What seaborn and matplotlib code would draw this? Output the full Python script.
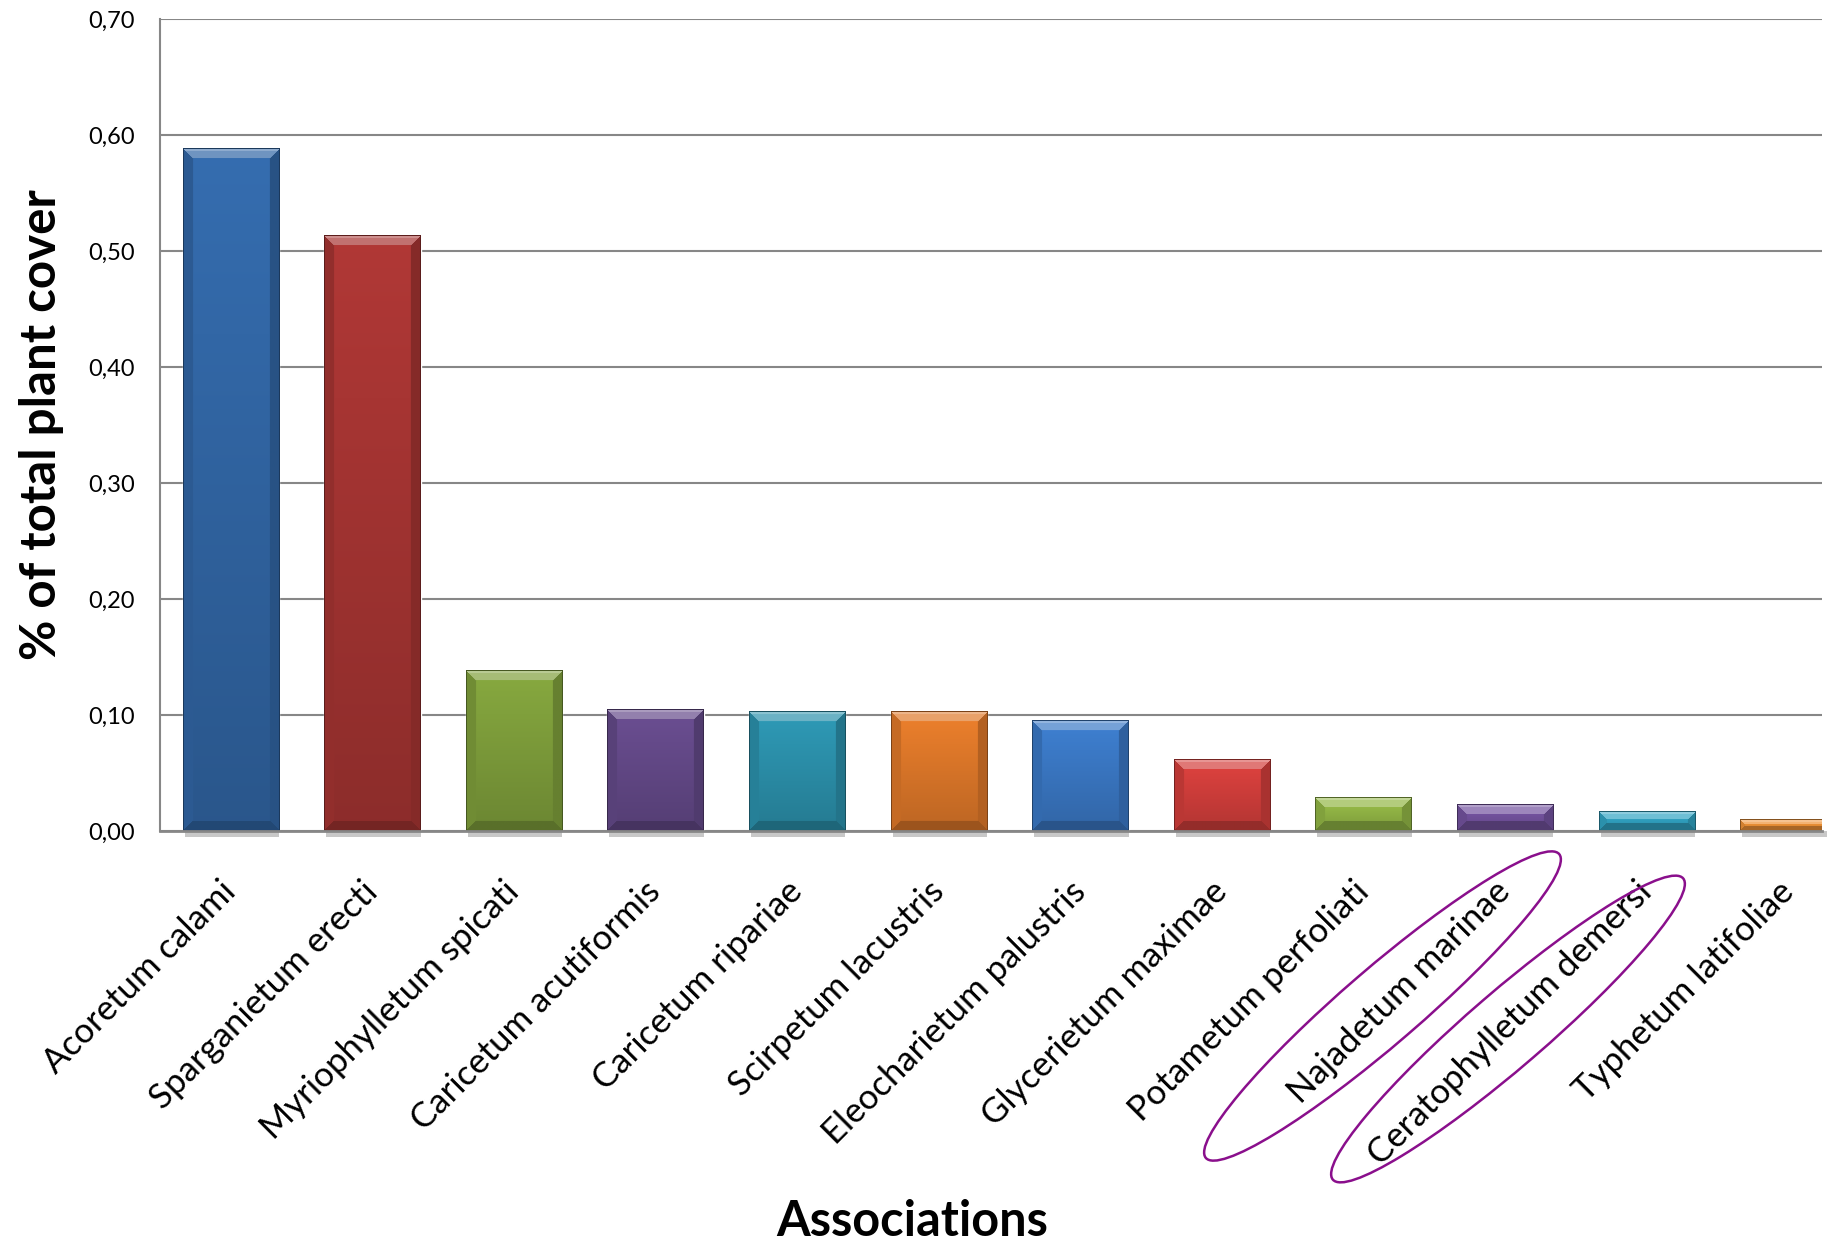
import numpy as np
import pandas as pd
import matplotlib
matplotlib.use("Agg")
import matplotlib.pyplot as plt
import seaborn as sns
from matplotlib.patches import Ellipse, Rectangle
from matplotlib.ticker import FuncFormatter
from matplotlib.colors import to_rgb

# Share of total plant cover per plant association
associations = [
    "Acoretum calami", "Sparganietum erecti", "Myriophylletum spicati",
    "Caricetum acutiformis", "Caricetum ripariae", "Scirpetum lacustris",
    "Eleocharietum palustris", "Glycerietum maximae", "Potametum perfoliati",
    "Najadetum marinae", "Ceratophylletum demersi", "Typhetum latifoliae",
]
cover = [0.588, 0.513, 0.138, 0.105, 0.103, 0.103, 0.095, 0.062, 0.029, 0.023, 0.017, 0.010]
bar_colors = [
    "#3267A6", "#A73533", "#80A03C", "#654A8A", "#2C92AD", "#E0792A",
    "#3B79C6", "#D43F3C", "#93B746", "#7453A0", "#31A4C4", "#F09337",
]
y_ticks = [0.0, 0.1, 0.2, 0.3, 0.4, 0.5, 0.6, 0.7]
circled = ["Najadetum marinae", "Ceratophylletum demersi"]

sns.set_theme(style="white")
plt.rcParams["font.family"] = ["Lato", "DejaVu Sans"]

W, H = 1827, 1247
fig = plt.figure(figsize=(W / 100, H / 100), dpi=100)
fig.patch.set_facecolor("white")
ax = fig.add_axes([160 / W, 416 / H, 1662 / W, 812 / H])

df = pd.DataFrame({"association": associations, "cover": cover})
sns.barplot(data=df, x="association", y="cover", hue="association",
            palette=bar_colors, legend=False, width=0.68, saturation=1,
            ax=ax, zorder=3)

ax.set_xlim(-0.5, -0.5 + 1662 / 141.6)
ax.set_ylim(0, 0.7)
ax.set_yticks(y_ticks)
ax.yaxis.set_major_formatter(FuncFormatter(lambda v, _: f"{v:.2f}".replace(".", ",")))

grid_col = "#878787"
ax.set_axisbelow(True)
ax.grid(axis="y", color=grid_col, lw=1.5, zorder=0)
ax.grid(axis="x", visible=False)
for side in ("top", "right"):
    ax.spines[side].set_visible(False)
ax.spines["left"].set_color(grid_col)
ax.spines["left"].set_linewidth(1.5)
ax.spines["bottom"].set_color(grid_col)
ax.spines["bottom"].set_linewidth(2.0)
ax.spines["bottom"].set_zorder(5)

ax.tick_params(axis="y", length=6, width=1.5, color=grid_col, direction="out",
               pad=12, labelsize=17, labelcolor="black")
ax.tick_params(axis="x", length=0, pad=40, labelsize=25, labelcolor="black")
plt.setp(ax.get_xticklabels(), rotation=45, ha="right", va="center",
         rotation_mode="anchor")

# Bevelled, shaded rendering of each bar derived from the bar patches
for patch in list(ax.patches):
    x0, w, h = patch.get_x(), patch.get_width(), patch.get_height()
    p0 = ax.transData.transform((x0, 0))
    p1 = ax.transData.transform((x0 + w, h))
    nx = max(int(round(p1[0] - p0[0])), 2)
    ny = max(int(round(p1[1] - p0[1])), 2)
    base = np.array(to_rgb(patch.get_facecolor()))
    rows = np.arange(ny)[:, None]
    cols = np.arange(nx)[None, :]
    t = rows / max(ny - 1, 1)
    body = 1.06 - 0.22 * t
    img = np.clip(base[None, None, :] * body[..., None] * np.ones((1, nx, 1)), 0, 1)
    b = min(10, ny / 2.5, nx / 2)
    dt = rows + 0 * cols
    db = (ny - 1 - rows) + 0 * cols
    dl = cols + 0 * rows
    dr = (nx - 1 - cols) + 0 * rows
    stack = np.stack([dt, db, dl, dr])
    m = stack.min(axis=0)
    which = stack.argmin(axis=0)
    bev = m < b
    light = base + (1 - base) * 0.30
    img[bev & (which == 0)] = light
    img[bev & (which == 1)] = base * 0.70
    img[bev & (which == 2)] = base * 0.88
    img[bev & (which == 3)] = base * 0.80
    # brighter strip along the very top edge
    top_strip = (dt < 3) & (which == 0)
    img[top_strip] = base + (1 - base) * 0.45
    # thin dark outline
    edge = m < 1
    img[edge] = base * 0.55
    ax.imshow(img, extent=(x0, x0 + w, 0, h), aspect="auto", zorder=4,
              interpolation="bilinear")
    ax.add_patch(Rectangle((x0 + 0.02 * w, 0), 0.98 * w, -0.005,
                           color="#c8c8c8", lw=0, zorder=2, clip_on=False))

ax.set_xlim(-0.5, -0.5 + 1662 / 141.6)
ax.set_ylim(0, 0.7)

ax.set_ylabel("% of total plant cover", fontsize=35.5, fontweight="bold",
              color="black", va="center")
ax.yaxis.set_label_coords(-0.0716, 0.5)
ax.set_xlabel("Associations", fontsize=35, fontweight="bold", color="black",
              va="center")
ax.xaxis.set_label_coords(0.4525, -0.4815)

# Hand-drawn rings around two of the category names
ring_specs = {
    "Najadetum marinae": ((1382.5, 1006.0), 466, 76),
    "Ceratophylletum demersi": ((1508.0, 1029.0), 462, 76),
}
for name in circled:
    (cx, cy), major, minor = ring_specs[name]
    ring = Ellipse((cx / 100, (H - cy) / 100), major / 100, minor / 100,
                   angle=40.7, transform=fig.dpi_scale_trans, fill=False,
                   ec="#8A0F8C", lw=1.8)
    fig.add_artist(ring)

fig.savefig("out.png", dpi=100, facecolor="white")
